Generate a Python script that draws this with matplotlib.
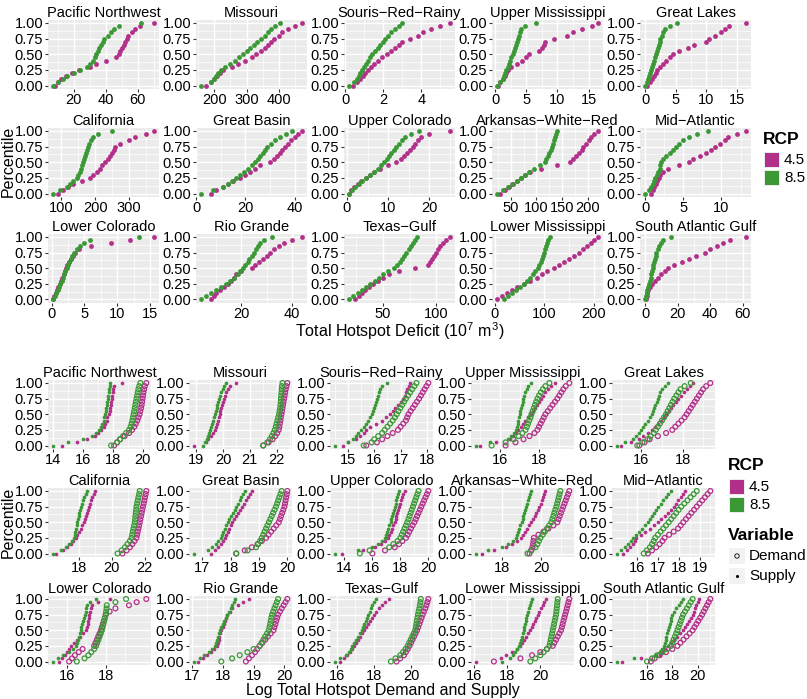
import matplotlib
matplotlib.use("Agg")
import matplotlib.pyplot as plt
from matplotlib.patches import Rectangle
from matplotlib.ticker import FormatStrFormatter
import numpy as np

plt.rcParams['font.family'] = ['Liberation Sans', 'DejaVu Sans']
plt.rcParams['mathtext.default'] = 'regular'

# --- data (sorted values -> percentile rank) ---
regions = ["Pacific Northwest", "Missouri", "Souris\u2212Red\u2212Rainy", "Upper Mississippi", "Great Lakes",
           "California", "Great Basin", "Upper Colorado", "Arkansas\u2212White\u2212Red", "Mid\u2212Atlantic",
           "Lower Colorado", "Rio Grande", "Texas\u2212Gulf", "Lower Mississippi", "South Atlantic Gulf"]

deficit_ticks = [[20, 40, 60], [200, 300, 400], [0, 2, 4], [0, 5, 10, 15], [0, 5, 10, 15],
                 [100, 200, 300], [0, 20, 40], [0, 10, 20], [50, 100, 150, 200], [0, 5, 10],
                 [0, 5, 10, 15], [20, 40], [50, 100], [0, 100, 200], [0, 20, 40, 60]]

deficit_45 = [
    [8, 10, 12, 15, 19, 23, 30, 34, 40, 46, 48, 49, 50, 51, 52, 53, 54, 56, 58, 61, 70],
    [175, 190, 200, 210, 218, 228, 255, 275, 295, 315, 330, 345, 355, 365, 375, 385, 398, 410, 428, 450, 470],
    [0.4, 0.6, 0.8, 0.95, 1.05, 1.2, 1.35, 1.5, 1.7, 1.95, 2.2, 2.4, 2.6, 2.8, 3.0, 3.4, 3.8, 4.1, 4.5, 5.0, 5.5],
    [0.5, 0.8, 1.2, 1.5, 1.8, 2.0, 2.6, 3.5, 4.3, 5.0, 5.5, 7.0, 7.5, 7.8, 8.0, 9.5, 11.5, 12.5, 14.0, 15.5, 16.5],
    [0.4, 0.8, 1.2, 1.5, 1.8, 2.0, 2.5, 3.0, 3.5, 4.0, 4.5, 5.5, 7.0, 8.0, 10.0, 10.5, 11.5, 12.5, 13.0, 13.8, 16.5],
    [90, 105, 120, 135, 160, 185, 195, 205, 215, 222, 230, 237, 245, 250, 255, 260, 275, 300, 320, 350, 375],
    [6, 8, 11, 13, 15, 18, 20, 22, 24, 26, 30, 31.5, 33, 34, 35, 36, 37.5, 38.5, 40, 41.5, 43],
    [0.5, 1.0, 1.8, 2.6, 3.5, 4.5, 5.5, 6.5, 8.0, 10.0, 12.0, 13.0, 13.8, 14.5, 15.2, 16.0, 16.6, 17.3, 18.0, 20.0, 25.0],
    [28, 38, 46, 54, 62, 70, 78, 88, 108, 140, 165, 172, 178, 183, 188, 191, 196, 202, 207, 213, 220],
    [0.8, 1.0, 1.2, 1.4, 1.6, 1.8, 2.0, 2.3, 3.0, 4.5, 5.7, 6.3, 7.2, 8.0, 8.6, 9.2, 9.8, 10.4, 10.9, 12.0, 13.2],
    [0.2, 0.4, 0.6, 0.8, 1.0, 1.2, 1.4, 1.6, 1.8, 2.0, 2.2, 2.4, 2.6, 2.9, 3.2, 3.6, 4.2, 6.0, 9.0, 12.0, 15.6],
    [8, 9, 10, 11.5, 13, 14.5, 16, 17, 18, 20, 24, 25.5, 27, 28.5, 30, 31.5, 33, 35, 37, 40, 44],
    [24, 27, 30, 33, 37, 41, 45, 50, 56, 65, 80, 92, 94, 96, 98, 100, 102, 104, 106, 109, 113],
    [5, 15, 25, 35, 45, 60, 72, 85, 95, 105, 120, 130, 140, 150, 160, 170, 178, 186, 194, 202, 209],
    [0.5, 1.0, 1.5, 2.0, 2.8, 4.0, 6.0, 8.0, 10.0, 12.0, 14.0, 18.0, 23.0, 27.0, 31.0, 37.0, 40.0, 44.0, 48.0, 52.0, 62.0],
]

deficit_85 = [
    [7, 10, 13, 16, 20, 24, 28, 30, 32, 33, 34, 35, 36, 37, 38, 39, 41, 43, 45, 48, 62],
    [160, 192, 200, 207, 213, 220, 235, 250, 265, 278, 290, 300, 310, 322, 333, 345, 355, 365, 375, 388, 402],
    [0.2, 0.45, 0.6, 0.7, 0.8, 0.9, 1.0, 1.1, 1.2, 1.3, 1.4, 1.55, 1.7, 1.85, 2.0, 2.1, 2.25, 2.4, 2.6, 2.8, 3.0],
    [0.3, 0.8, 1.2, 1.4, 1.6, 1.8, 2.0, 2.2, 2.4, 2.6, 2.8, 3.0, 3.2, 3.4, 3.5, 3.6, 3.8, 4.0, 4.2, 4.8, 6.5],
    [0.0, 0.3, 0.5, 0.7, 0.85, 1.0, 1.2, 1.35, 1.5, 1.65, 1.8, 1.95, 2.1, 2.25, 2.4, 2.5, 2.7, 2.9, 3.2, 4.0, 5.2],
    [75, 95, 115, 125, 135, 145, 150, 155, 158, 162, 165, 168, 171, 174, 177, 180, 183, 188, 195, 210, 250],
    [2, 7, 11, 13, 14.5, 16, 18, 19.5, 21, 22.5, 24, 25, 26, 27, 28, 29, 30.5, 32, 34, 36.5, 39],
    [0.5, 1.2, 2.0, 2.8, 3.6, 4.5, 5.5, 6.5, 7.5, 8.3, 9.0, 9.6, 10.2, 10.8, 11.4, 12.0, 12.6, 13.3, 14.0, 15.5, 17.5],
    [23, 35, 44, 52, 61, 70, 78, 86, 96, 106, 116, 119, 122, 125, 128, 130, 132, 134, 136, 138, 141],
    [0.0, 0.5, 0.8, 1.0, 1.15, 1.3, 1.5, 1.7, 1.9, 2.0, 2.1, 2.4, 2.8, 3.3, 3.7, 4.0, 4.5, 5.0, 5.7, 6.8, 8.3],
    [0.2, 0.5, 0.7, 0.9, 1.1, 1.3, 1.5, 1.7, 1.9, 2.1, 2.3, 2.5, 2.7, 2.9, 3.1, 3.4, 3.8, 4.3, 5.0, 5.8, 13.3],
    [4, 6, 8, 10, 12, 14, 15.5, 17, 18.5, 19.5, 20.5, 21.5, 22.5, 23.2, 24, 25, 25.7, 26.5, 27.5, 29, 32],
    [18, 22, 26, 30, 34, 38, 42, 46, 50, 55, 60, 63, 66, 68, 70, 72, 74, 76, 78, 80, 82],
    [20, 28, 36, 44, 52, 60, 66, 72, 77, 82, 87, 90, 93, 95, 97, 100, 102, 104, 106, 108, 112],
    [0.0, 0.5, 1.0, 1.5, 2.0, 2.5, 3.0, 3.4, 3.8, 4.2, 4.6, 5.0, 5.5, 6.0, 6.5, 7.0, 7.7, 8.5, 9.5, 11.0, 16.0],
]

log_ticks = [[14, 16, 18, 20], [19, 20, 21, 22], [15, 16, 17, 18], [16, 18], [16, 18],
             [18, 20, 22], [17, 18, 19, 20], [14, 16, 18, 20], [18, 20], [16, 17, 18, 19],
             [16, 18], [17, 18, 19, 20], [16, 18, 20], [16, 18, 20], [16, 18, 20]]

supply_45 = [
    [14.6, 15.6, 16.3, 16.8, 17.0, 17.2, 17.4, 17.5, 17.6, 17.65, 17.75, 17.8, 17.83, 17.86, 17.9, 17.93, 17.96, 18.0, 18.05, 18.1, 18.6],
    [18.9, 19.35, 19.45, 19.55, 19.62, 19.7, 19.74, 19.78, 19.81, 19.84, 19.87, 19.9, 19.93, 19.96, 20.0, 20.05, 20.08, 20.12, 20.17, 20.25, 20.5],
    [14.8, 15.0, 15.3, 15.45, 15.6, 15.7, 15.85, 16.05, 16.3, 16.45, 16.6, 16.7, 16.8, 16.9, 17.0, 17.1, 17.15, 17.2, 17.25, 17.3, 17.35],
    [15.0, 15.8, 16.5, 16.65, 16.8, 16.9, 17.05, 17.15, 17.3, 17.45, 17.6, 17.7, 17.8, 17.9, 18.0, 18.1, 18.2, 18.3, 18.45, 18.6, 18.8],
    [15.0, 15.5, 15.9, 16.1, 16.3, 16.5, 16.65, 16.8, 16.95, 17.1, 17.2, 17.32, 17.44, 17.56, 17.68, 17.8, 17.93, 18.06, 18.2, 18.35, 18.5],
    [16.6, 17.0, 17.3, 17.5, 17.65, 17.8, 17.9, 18.0, 18.1, 18.2, 18.3, 18.36, 18.42, 18.48, 18.54, 18.6, 18.66, 18.72, 18.8, 18.9, 19.0],
    [17.3, 17.45, 17.55, 17.65, 17.72, 17.8, 17.85, 17.9, 17.95, 18.0, 18.05, 18.12, 18.19, 18.26, 18.33, 18.4, 18.47, 18.54, 18.61, 18.68, 18.75],
    [13.8, 15.3, 16.2, 16.6, 16.9, 17.1, 17.2, 17.3, 17.4, 17.5, 17.6, 17.66, 17.72, 17.78, 17.84, 17.9, 17.98, 18.06, 18.14, 18.22, 18.3],
    [17.0, 17.6, 18.2, 18.5, 18.75, 18.95, 19.06, 19.17, 19.28, 19.39, 19.5, 19.58, 19.66, 19.74, 19.82, 19.9, 19.96, 20.02, 20.08, 20.14, 20.2],
    [15.3, 15.5, 15.65, 15.78, 15.88, 15.95, 16.16, 16.37, 16.58, 16.79, 17.0, 17.15, 17.3, 17.45, 17.6, 17.75, 17.86, 17.97, 18.08, 18.19, 18.3],
    [15.6, 15.75, 15.9, 16.0, 16.1, 16.2, 16.35, 16.5, 16.65, 16.8, 17.0, 17.03, 17.06, 17.09, 17.12, 17.15, 17.2, 17.25, 17.3, 17.6, 18.2],
    [17.2, 17.35, 17.5, 17.62, 17.72, 17.8, 17.83, 17.86, 17.89, 17.92, 17.95, 17.99, 18.03, 18.07, 18.11, 18.15, 18.22, 18.3, 18.5, 18.65, 18.85],
    [16.2, 16.4, 16.55, 16.7, 16.82, 16.95, 17.05, 17.15, 17.25, 17.35, 17.45, 17.56, 17.67, 17.78, 17.89, 18.0, 18.13, 18.26, 18.4, 18.6, 18.8],
    [16.1, 17.6, 17.9, 18.3, 18.6, 18.8, 18.92, 19.04, 19.16, 19.28, 19.4, 19.49, 19.58, 19.67, 19.76, 19.85, 19.95, 20.05, 20.15, 20.25, 20.35],
    [14.0, 15.5, 17.0, 17.25, 17.45, 17.65, 17.9, 18.15, 18.4, 18.62, 18.85, 19.0, 19.15, 19.3, 19.45, 19.6, 19.7, 19.8, 19.9, 20.0, 20.1],
]

supply_85 = [
    [14.0, 15.0, 16.0, 16.6, 16.9, 17.1, 17.2, 17.3, 17.4, 17.45, 17.5, 17.53, 17.56, 17.6, 17.63, 17.66, 17.7, 17.73, 17.76, 17.8, 17.85],
    [19.25, 19.32, 19.38, 19.43, 19.47, 19.5, 19.54, 19.58, 19.62, 19.66, 19.7, 19.73, 19.76, 19.79, 19.82, 19.85, 19.89, 19.93, 19.98, 20.04, 20.1],
    [14.5, 15.0, 15.2, 15.3, 15.4, 15.5, 15.6, 15.7, 15.78, 15.85, 15.9, 15.94, 15.98, 16.02, 16.06, 16.1, 16.13, 16.17, 16.2, 16.3, 16.5],
    [14.8, 15.5, 16.4, 16.55, 16.7, 16.8, 16.85, 16.9, 16.94, 16.97, 17.0, 17.04, 17.08, 17.12, 17.16, 17.2, 17.25, 17.3, 17.36, 17.45, 17.6],
    [14.8, 15.2, 15.6, 15.75, 15.9, 16.0, 16.1, 16.2, 16.3, 16.4, 16.5, 16.56, 16.62, 16.68, 16.74, 16.8, 16.86, 16.92, 17.0, 17.15, 17.3],
    [16.4, 16.9, 17.2, 17.4, 17.55, 17.7, 17.74, 17.78, 17.82, 17.86, 17.9, 17.94, 17.98, 18.02, 18.06, 18.1, 18.16, 18.22, 18.3, 18.4, 18.5],
    [16.7, 17.2, 17.35, 17.48, 17.57, 17.65, 17.7, 17.75, 17.8, 17.85, 17.9, 17.96, 18.02, 18.08, 18.14, 18.2, 18.26, 18.32, 18.38, 18.44, 18.5],
    [13.3, 15.0, 16.0, 16.4, 16.7, 16.9, 16.98, 17.06, 17.14, 17.22, 17.3, 17.36, 17.42, 17.48, 17.54, 17.6, 17.66, 17.72, 17.78, 17.84, 17.9],
    [16.7, 17.3, 18.0, 18.3, 18.55, 18.7, 18.76, 18.82, 18.88, 18.94, 19.0, 19.05, 19.1, 19.15, 19.2, 19.25, 19.3, 19.35, 19.4, 19.45, 19.5],
    [15.0, 15.2, 15.4, 15.55, 15.7, 15.8, 15.94, 16.08, 16.22, 16.36, 16.5, 16.6, 16.7, 16.8, 16.9, 17.0, 17.12, 17.24, 17.36, 17.48, 17.6],
    [15.25, 15.5, 15.8, 16.1, 16.3, 16.45, 16.5, 16.55, 16.6, 16.65, 16.7, 16.74, 16.78, 16.82, 16.86, 16.9, 16.95, 17.0, 17.05, 17.2, 17.5],
    [17.05, 17.25, 17.4, 17.55, 17.65, 17.75, 17.78, 17.81, 17.84, 17.87, 17.9, 17.95, 18.0, 18.05, 18.1, 18.15, 18.2, 18.25, 18.3, 18.35, 18.4],
    [15.9, 16.2, 16.5, 16.65, 16.75, 16.85, 16.95, 17.05, 17.15, 17.25, 17.35, 17.42, 17.49, 17.56, 17.63, 17.7, 17.77, 17.84, 17.9, 18.0, 18.1],
    [17.7, 18.2, 18.35, 18.5, 18.6, 18.7, 18.76, 18.82, 18.88, 18.94, 19.0, 19.04, 19.08, 19.12, 19.16, 19.2, 19.26, 19.32, 19.38, 19.44, 19.5],
    [13.6, 15.0, 16.6, 17.0, 17.2, 17.35, 17.41, 17.47, 17.53, 17.59, 17.65, 17.72, 17.79, 17.86, 17.93, 18.0, 18.15, 18.3, 18.5, 18.7, 18.85],
]

demand_45 = [
    [18.1, 18.3, 18.5, 18.8, 19.1, 19.3, 19.45, 19.55, 19.65, 19.72, 19.8, 19.85, 19.9, 19.94, 19.97, 20.0, 20.03, 20.06, 20.1, 20.15, 20.25],
    [21.5, 21.7, 21.85, 21.95, 22.02, 22.08, 22.1, 22.12, 22.14, 22.16, 22.18, 22.2, 22.22, 22.24, 22.26, 22.28, 22.3, 22.32, 22.34, 22.37, 22.4],
    [15.7, 16.1, 16.3, 16.5, 16.7, 16.9, 17.0, 17.1, 17.2, 17.25, 17.3, 17.38, 17.46, 17.54, 17.62, 17.7, 17.77, 17.84, 17.91, 17.98, 18.05],
    [16.3, 16.8, 17.2, 17.5, 17.75, 17.9, 17.98, 18.06, 18.14, 18.22, 18.3, 18.42, 18.54, 18.66, 18.78, 18.9, 19.0, 19.1, 19.2, 19.32, 19.5],
    [15.9, 16.15, 16.4, 16.8, 17.2, 17.5, 17.65, 17.8, 17.95, 18.1, 18.2, 18.3, 18.4, 18.5, 18.6, 18.7, 18.8, 18.9, 19.0, 19.15, 19.35],
    [20.65, 20.9, 21.1, 21.25, 21.38, 21.5, 21.54, 21.58, 21.62, 21.66, 21.7, 21.74, 21.78, 21.82, 21.86, 21.9, 21.94, 21.98, 22.02, 22.06, 22.1],
    [18.2, 18.5, 18.75, 18.95, 19.1, 19.25, 19.34, 19.43, 19.52, 19.61, 19.7, 19.74, 19.78, 19.82, 19.86, 19.9, 19.92, 19.94, 19.96, 19.98, 20.0],
    [16.0, 16.9, 17.6, 17.9, 18.15, 18.4, 18.52, 18.64, 18.76, 18.88, 19.0, 19.1, 19.2, 19.3, 19.4, 19.5, 19.6, 19.7, 19.8, 19.9, 20.0],
    [19.4, 19.48, 19.55, 19.58, 19.6, 19.62, 19.85, 20.1, 20.35, 20.6, 20.8, 20.86, 20.92, 20.98, 21.04, 21.1, 21.16, 21.22, 21.28, 21.34, 21.4],
    [16.5, 16.7, 16.9, 17.06, 17.2, 17.3, 17.52, 17.74, 17.95, 18.08, 18.2, 18.33, 18.46, 18.59, 18.72, 18.85, 18.98, 19.11, 19.24, 19.37, 19.5],
    [16.1, 16.25, 16.4, 16.6, 16.8, 17.4, 17.47, 17.54, 17.61, 17.68, 17.75, 17.8, 17.85, 17.9, 17.95, 18.0, 18.2, 18.5, 19.2, 19.6, 20.1],
    [18.75, 18.85, 18.95, 19.05, 19.12, 19.2, 19.29, 19.38, 19.47, 19.56, 19.65, 19.68, 19.71, 19.74, 19.77, 19.8, 19.86, 19.92, 19.98, 20.04, 20.1],
    [19.2, 19.4, 19.6, 19.7, 19.8, 19.9, 19.98, 20.06, 20.14, 20.22, 20.3, 20.36, 20.42, 20.48, 20.54, 20.6, 20.67, 20.74, 20.8, 20.85, 20.9],
    [17.2, 18.8, 19.5, 20.0, 20.4, 20.75, 20.85, 20.95, 21.05, 21.15, 21.25, 21.3, 21.35, 21.4, 21.45, 21.5, 21.55, 21.6, 21.65, 21.7, 21.75],
    [16.3, 16.6, 17.0, 17.5, 18.0, 18.4, 18.64, 18.88, 19.12, 19.36, 19.6, 19.75, 19.9, 20.05, 20.2, 20.35, 20.48, 20.61, 20.74, 20.87, 21.0],
]

demand_85 = [
    [17.9, 18.3, 18.5, 18.7, 18.9, 19.1, 19.2, 19.27, 19.32, 19.36, 19.4, 19.44, 19.48, 19.52, 19.56, 19.6, 19.64, 19.68, 19.72, 19.78, 19.85],
    [21.5, 21.65, 21.75, 21.82, 21.88, 21.93, 21.97, 22.0, 22.03, 22.06, 22.09, 22.11, 22.13, 22.14, 22.15, 22.16, 22.17, 22.18, 22.19, 22.2, 22.22],
    [15.6, 15.9, 16.0, 16.15, 16.3, 16.4, 16.5, 16.6, 16.7, 16.78, 16.85, 16.92, 16.99, 17.06, 17.13, 17.2, 17.28, 17.36, 17.44, 17.52, 17.6],
    [15.6, 16.3, 16.7, 16.95, 17.15, 17.3, 17.37, 17.43, 17.49, 17.55, 17.6, 17.66, 17.72, 17.78, 17.84, 17.9, 17.98, 18.07, 18.17, 18.3, 18.5],
    [15.8, 16.05, 16.3, 16.45, 16.6, 16.7, 16.8, 16.9, 17.0, 17.1, 17.2, 17.28, 17.36, 17.44, 17.52, 17.6, 17.7, 17.8, 17.9, 18.1, 18.4],
    [20.35, 20.6, 20.8, 20.95, 21.1, 21.2, 21.24, 21.28, 21.32, 21.36, 21.4, 21.42, 21.44, 21.46, 21.48, 21.5, 21.54, 21.58, 21.62, 21.66, 21.7],
    [18.2, 18.6, 18.9, 18.97, 19.04, 19.1, 19.15, 19.2, 19.25, 19.3, 19.35, 19.4, 19.45, 19.5, 19.55, 19.6, 19.64, 19.68, 19.72, 19.76, 19.8],
    [15.1, 15.8, 17.2, 17.5, 17.8, 18.0, 18.1, 18.2, 18.3, 18.4, 18.5, 18.58, 18.66, 18.74, 18.82, 18.9, 18.98, 19.06, 19.14, 19.22, 19.3],
    [19.3, 19.5, 19.7, 19.8, 19.88, 19.95, 20.06, 20.17, 20.28, 20.39, 20.5, 20.55, 20.6, 20.65, 20.7, 20.75, 20.79, 20.83, 20.87, 20.91, 20.95],
    [16.3, 16.45, 16.6, 16.7, 16.78, 16.85, 16.98, 17.11, 17.24, 17.37, 17.5, 17.62, 17.74, 17.86, 17.98, 18.1, 18.25, 18.4, 18.55, 18.7, 18.85],
    [16.5, 16.9, 17.1, 17.25, 17.4, 17.5, 17.56, 17.62, 17.68, 17.74, 17.8, 17.84, 17.88, 17.92, 17.96, 18.0, 18.02, 18.04, 18.05, 18.5, 19.05],
    [17.95, 18.3, 18.55, 18.8, 19.0, 19.2, 19.26, 19.32, 19.38, 19.44, 19.5, 19.52, 19.54, 19.56, 19.58, 19.6, 19.64, 19.68, 19.72, 19.76, 19.8],
    [18.9, 19.15, 19.4, 19.55, 19.68, 19.8, 19.88, 19.96, 20.04, 20.12, 20.2, 20.23, 20.26, 20.29, 20.32, 20.35, 20.38, 20.42, 20.45, 20.48, 20.5],
    [19.4, 19.7, 20.0, 20.2, 20.4, 20.55, 20.59, 20.63, 20.67, 20.71, 20.75, 20.79, 20.83, 20.87, 20.91, 20.95, 20.97, 20.99, 21.01, 21.03, 21.05],
    [16.0, 16.4, 16.8, 17.2, 17.6, 17.9, 18.0, 18.1, 18.2, 18.3, 18.4, 18.49, 18.58, 18.67, 18.76, 18.85, 19.0, 19.15, 19.3, 19.45, 19.6],
]

# --- layout (pixels of the 807x699 picture) ---
W, H = 807, 699
C45, C85 = '#B3308A', '#3A9935'
PANEL_BG = '#EBEBEB'

top_x = [48, 196, 344, 492, 640]
top_y = [23, 131, 237]
top_w = 111
bot_x = [48, 189, 330, 471, 612]
bot_y = [383, 491, 599]
bot_w = 103
span = 62.5

fig = plt.figure(figsize=(W / 100, H / 100), dpi=100)


def make_panel(x0, y1, width):
    top = y1 - 0.05 * span
    height = 1.1 * span
    return fig.add_axes([x0 / W, 1 - (top + height) / H, width / W, height / H])


def pct(v):
    return np.arange(len(v)) / (len(v) - 1)


def style_panel(ax, title, ticks, series):
    allv = np.concatenate([np.asarray(s, float) for s in series])
    lo, hi = allv.min(), allv.max()
    pad = 0.05 * (hi - lo)
    step = ticks[1] - ticks[0]
    minors = [t - step / 2 for t in ticks] + [ticks[-1] + step / 2]
    ax.set_facecolor(PANEL_BG)
    ax.set_xticks(ticks)
    ax.set_xticks(minors, minor=True)
    ax.set_yticks([0, 0.25, 0.5, 0.75, 1.0])
    ax.set_yticks([0.125, 0.375, 0.625, 0.875], minor=True)
    ax.set_xlim(lo - pad, hi + pad)
    ax.set_ylim(-0.05, 1.05)
    ax.yaxis.set_major_formatter(FormatStrFormatter('%.2f'))
    ax.grid(True, which='major', color='white', linewidth=1.0)
    ax.grid(True, which='minor', color='white', linewidth=0.5)
    ax.set_axisbelow(True)
    for s in ax.spines.values():
        s.set_visible(False)
    ax.tick_params(which='major', length=2.5, width=0.8, color='#333333',
                   labelsize=10.5, pad=1, labelcolor='black')
    ax.tick_params(which='minor', length=0)
    ax.set_title(title, fontsize=10.5, pad=2)


# top block: total hotspot deficit
for i, name in enumerate(regions):
    r, c = divmod(i, 5)
    ax = make_panel(top_x[c], top_y[r], top_w)
    ax.scatter(deficit_45[i], pct(deficit_45[i]), s=12, color=C45, linewidths=0, zorder=3)
    ax.scatter(deficit_85[i], pct(deficit_85[i]), s=12, color=C85, linewidths=0, zorder=3)
    style_panel(ax, name, deficit_ticks[i], [deficit_45[i], deficit_85[i]])

# bottom block: log demand and supply
for i, name in enumerate(regions):
    r, c = divmod(i, 5)
    ax = make_panel(bot_x[c], bot_y[r], bot_w)
    ax.scatter(demand_45[i], pct(demand_45[i]), s=12, facecolors='none', edgecolors=C45,
               linewidths=0.9, zorder=3)
    ax.scatter(supply_45[i], pct(supply_45[i]), s=7, color=C45, linewidths=0, zorder=3)
    ax.scatter(demand_85[i], pct(demand_85[i]), s=12, facecolors='none', edgecolors=C85,
               linewidths=0.9, zorder=3)
    ax.scatter(supply_85[i], pct(supply_85[i]), s=7, color=C85, linewidths=0, zorder=3)
    style_panel(ax, name, log_ticks[i],
                [supply_45[i], supply_85[i], demand_45[i], demand_85[i]])

# overlay in pixel coordinates for axis titles and legends
ov = fig.add_axes([0, 0, 1, 1])
ov.set_xlim(0, W)
ov.set_ylim(H, 0)
ov.axis('off')

ov.text(400, 331, 'Total Hotspot Deficit (10$^7$ m$^3$)', ha='center', va='center', fontsize=11.5)
ov.text(383, 691, 'Log Total Hotspot Demand and Supply', ha='center', va='center', fontsize=11.5)
ov.text(8, 161, 'Percentile', rotation=90, ha='center', va='center', fontsize=11.5)
ov.text(8, 522, 'Percentile', rotation=90, ha='center', va='center', fontsize=11.5)

# legend for the top block
ov.text(763, 140, 'RCP', ha='left', va='center', fontsize=12.5, fontweight='bold')
for k, (lab, col) in enumerate([('4.5', C45), ('8.5', C85)]):
    yy = 152 + k * 18
    ov.add_patch(Rectangle((764, yy), 16, 16, facecolor=PANEL_BG, edgecolor='none'))
    ov.add_patch(Rectangle((765, yy + 1), 14, 14, facecolor=col, edgecolor='none'))
    ov.text(784, yy + 8, lab, ha='left', va='center', fontsize=11)

# legends for the bottom block
ov.text(728, 466, 'RCP', ha='left', va='center', fontsize=12.5, fontweight='bold')
for k, (lab, col) in enumerate([('4.5', C45), ('8.5', C85)]):
    yy = 479 + k * 18
    ov.add_patch(Rectangle((729, yy), 16, 16, facecolor=PANEL_BG, edgecolor='none'))
    ov.add_patch(Rectangle((730, yy + 1), 14, 14, facecolor=col, edgecolor='none'))
    ov.text(749, yy + 8, lab, ha='left', va='center', fontsize=11)

ov.text(728, 535, 'Variable', ha='left', va='center', fontsize=12.5, fontweight='bold')
for k, lab in enumerate(['Demand', 'Supply']):
    yy = 548 + k * 20
    ov.add_patch(Rectangle((729, yy), 16, 16, facecolor='#F2F2F2', edgecolor='none'))
    ov.text(749, yy + 8, lab, ha='left', va='center', fontsize=11)
ov.scatter([737], [556], s=10, facecolors='none', edgecolors='black', linewidths=0.6)
ov.scatter([737], [576], s=5, color='black', linewidths=0)

fig.savefig('out.png', dpi=100)
